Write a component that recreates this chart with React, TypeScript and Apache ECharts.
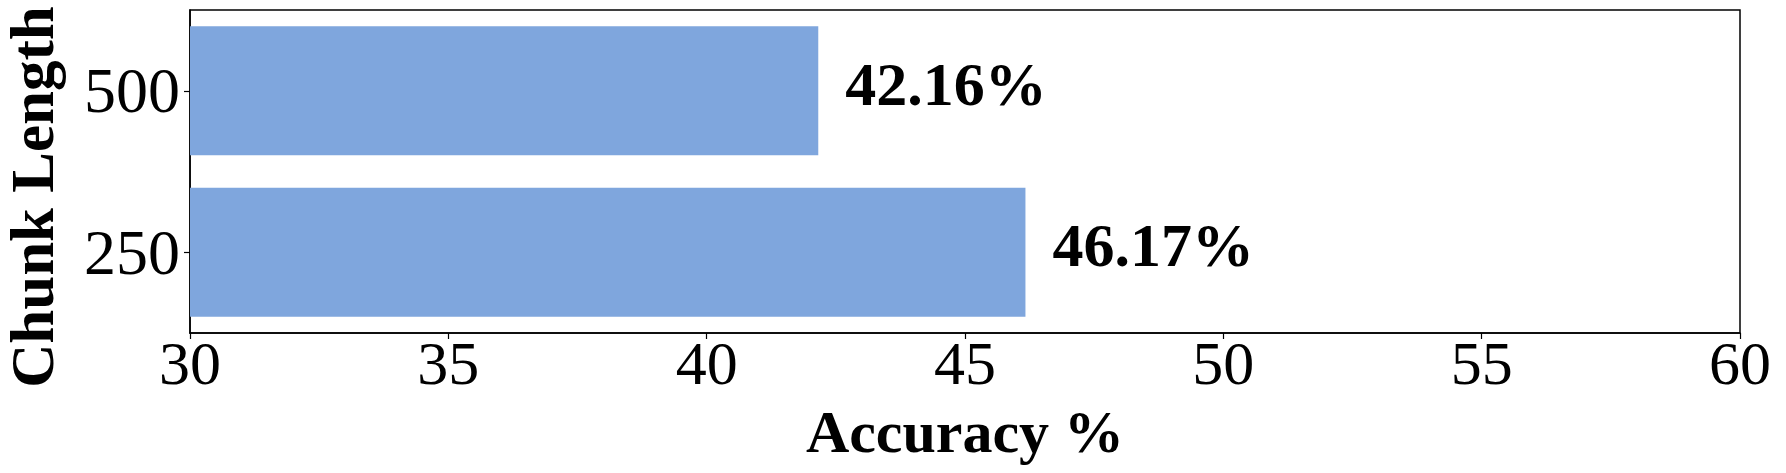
import React, { useEffect, useRef } from "react";
import * as echarts from "echarts";

const categories = ["250", "500"];
const accuracy = [46.17, 42.16];
const xTicks = [30, 35, 40, 45, 50, 55, 60];
const xTitle = "Accuracy %";
const yTitle = "Chunk Length";

export default function App() {
  const ref = useRef<HTMLDivElement>(null);
  useEffect(() => {
    if (!ref.current) return;
    const chart = echarts.init(ref.current, null, { renderer: "svg" });
    const font = "'Liberation Serif', 'DejaVu Serif', serif";
    chart.setOption({
      animation: false,
      backgroundColor: "#fff",
      grid: {
        left: 190,
        right: 46,
        top: 10,
        bottom: 140,
        show: true,
        borderColor: "#000",
        borderWidth: 1.5,
        backgroundColor: "transparent",
        outerBoundsMode: "none",
      },
      graphic: [
        {
          type: "text",
          x: 32,
          y: 197,
          rotation: Math.PI / 2,
          style: {
            text: yTitle,
            fontFamily: font,
            fontWeight: "bold",
            fontSize: 61,
            fill: "#000",
            align: "center",
            verticalAlign: "middle",
          },
        },
      ],
      xAxis: {
        type: "value",
        min: xTicks[0],
        max: xTicks[xTicks.length - 1],
        interval: 5,
        name: xTitle,
        nameLocation: "middle",
        nameGap: 72,
        nameMoveOverlap: false,
        nameTextStyle: { fontFamily: font, fontWeight: "bold", fontSize: 60, lineHeight: 54, color: "#000" },
        axisLine: { show: true, lineStyle: { color: "#000", width: 1.5 } },
        axisTick: { show: true, length: 6, lineStyle: { color: "#000", width: 1.2 } },
        splitLine: { show: false },
        axisLabel: { fontFamily: font, fontSize: 62, lineHeight: 56, color: "#000", margin: 2 },
      },
      yAxis: {
        type: "category",
        data: categories,
        axisLine: { show: true, lineStyle: { color: "#000", width: 1.5 } },
        axisTick: { show: true, alignWithLabel: true, length: 6, lineStyle: { color: "#000", width: 1.2 } },
        axisLabel: { fontFamily: font, fontSize: 64, color: "#000", margin: 10 },
      },
      series: [
        {
          type: "bar",
          data: accuracy,
          barWidth: "80%",
          itemStyle: { color: "#7fa6dd" },
          label: {
            show: true,
            position: "right",
            distance: 27,
            offset: [0, -7],
            formatter: (p: any) => p.value.toFixed(2) + "%",
            fontFamily: font,
            fontWeight: "bold",
            fontSize: 62,
            color: "#000",
          },
        },
      ],
    });
    return () => chart.dispose();
  }, []);
  return (
    <div
      ref={ref}
      style={{ position: "absolute", left: 0, top: 0, width: 1786, height: 473 }}
    />
  );
}
